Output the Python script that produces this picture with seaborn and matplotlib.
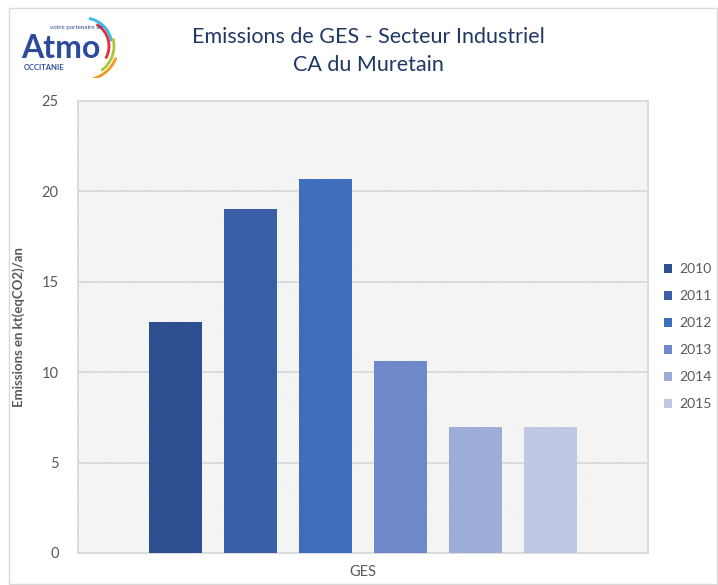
import matplotlib
matplotlib.use("Agg")
import numpy as np
import pandas as pd
import matplotlib.pyplot as plt
import seaborn as sns
from matplotlib.patches import Rectangle, Arc

# donnees
annees = ["2010", "2011", "2012", "2013", "2014", "2015"]
emissions = [12.8, 19.05, 20.7, 10.6, 6.95, 6.95]
categorie = ["GES"] * len(annees)
couleurs = ["#2F5090", "#3A5FA8", "#406EBE", "#6E88CA", "#9EADD8", "#BEC8E4"]

df = pd.DataFrame({"cat": categorie, "annee": annees, "val": emissions})

sns.set_theme(style="white")
plt.rcParams["font.family"] = ["Lato", "DejaVu Sans"]
plt.rcParams["hatch.linewidth"] = 0.5
plt.rcParams["hatch.color"] = "#E6E6E6"

gris = "#595959"
fig = plt.figure(figsize=(7.18, 5.85), dpi=100)
ax = fig.add_axes([78 / 718, 1 - 553 / 585, 570 / 718, 452 / 585])

# fond hachure
ax.add_patch(Rectangle((0, 0), 1, 1, transform=ax.transAxes, facecolor="white",
                       edgecolor="#E6E6E6", hatch="\\" * 14, lw=0, zorder=0))

sns.barplot(data=df, x="cat", y="val", hue="annee", palette=couleurs,
            width=0.8, gap=0.29, ax=ax, zorder=3, saturation=1, legend=True,
            linewidth=0)

ax.set_xlim(-0.507, 0.507)
ax.set_ylim(0, 25)
ax.set_yticks([0, 5, 10, 15, 20, 25])
ax.yaxis.grid(True, color="#D9D9D9", lw=1.3, zorder=1)
ax.set_axisbelow(True)
for s in ax.spines.values():
    s.set_color("#D9D9D9")
    s.set_linewidth(1.3)
ax.tick_params(axis="both", length=0, colors=gris, labelsize=10.5, pad=14)
ax.tick_params(axis="x", pad=9)
ax.set_xlabel("")
ax.set_ylabel("Emissions en kt(eqCO2)/an", color=gris, fontsize=9.5,
              fontweight="bold", labelpad=12)

leg = ax.legend(loc="upper left", bbox_to_anchor=(664 / 718, 1 - 263 / 585),
                bbox_transform=fig.transFigure, frameon=False, borderpad=0,
                borderaxespad=0, fontsize=10, labelcolor=gris,
                handlelength=0.6, handleheight=0.6, handletextpad=0.5,
                labelspacing=1.08)

fig.text(0.513, 0.937, "Emissions de GES - Secteur Industriel", ha="center",
         va="center", fontsize=15.5, color="#1F3864")
fig.text(0.513, 0.889, "CA du Muretain", ha="center", va="center",
         fontsize=15.5, color="#1F3864")

# cadre exterieur
fig.add_artist(Rectangle((9 / 718, 1 / 585), 708 / 718, 576 / 585,
                         transform=fig.transFigure, fill=False,
                         edgecolor="#D9D9D9", lw=1))

# logo
fig.text(21 / 718, 1 - 48 / 585, "Atmo", fontsize=23, fontweight="bold",
         color="#2E4A9A", va="center", ha="left")
fig.text(24 / 718, 1 - 68 / 585, "OCCITANIE", fontsize=5.5, fontweight="bold",
         color="#2E4A9A", va="center", ha="left")
fig.text(50 / 718, 1 - 27 / 585, "votre partenaire air", fontsize=4.5,
         color="#2E4A9A", va="center", ha="left")
lax = fig.add_axes([62 / 718, 1 - 78 / 585, 60 / 718, 62 / 585])
lax.set_xlim(0, 60)
lax.set_ylim(0, 62)
lax.axis("off")
for (w, t1, t2, c) in [(56, 10, 80, "#3BB9E8"), (50, -30, 60, "#E0303A"),
                       (60, -55, 15, "#A8C83A"), (68, -75, -20, "#F39A1E")]:
    lax.add_patch(Arc((22, 32), w, w, theta1=t1, theta2=t2, color=c, lw=2))

fig.savefig("out.png", dpi=100)
